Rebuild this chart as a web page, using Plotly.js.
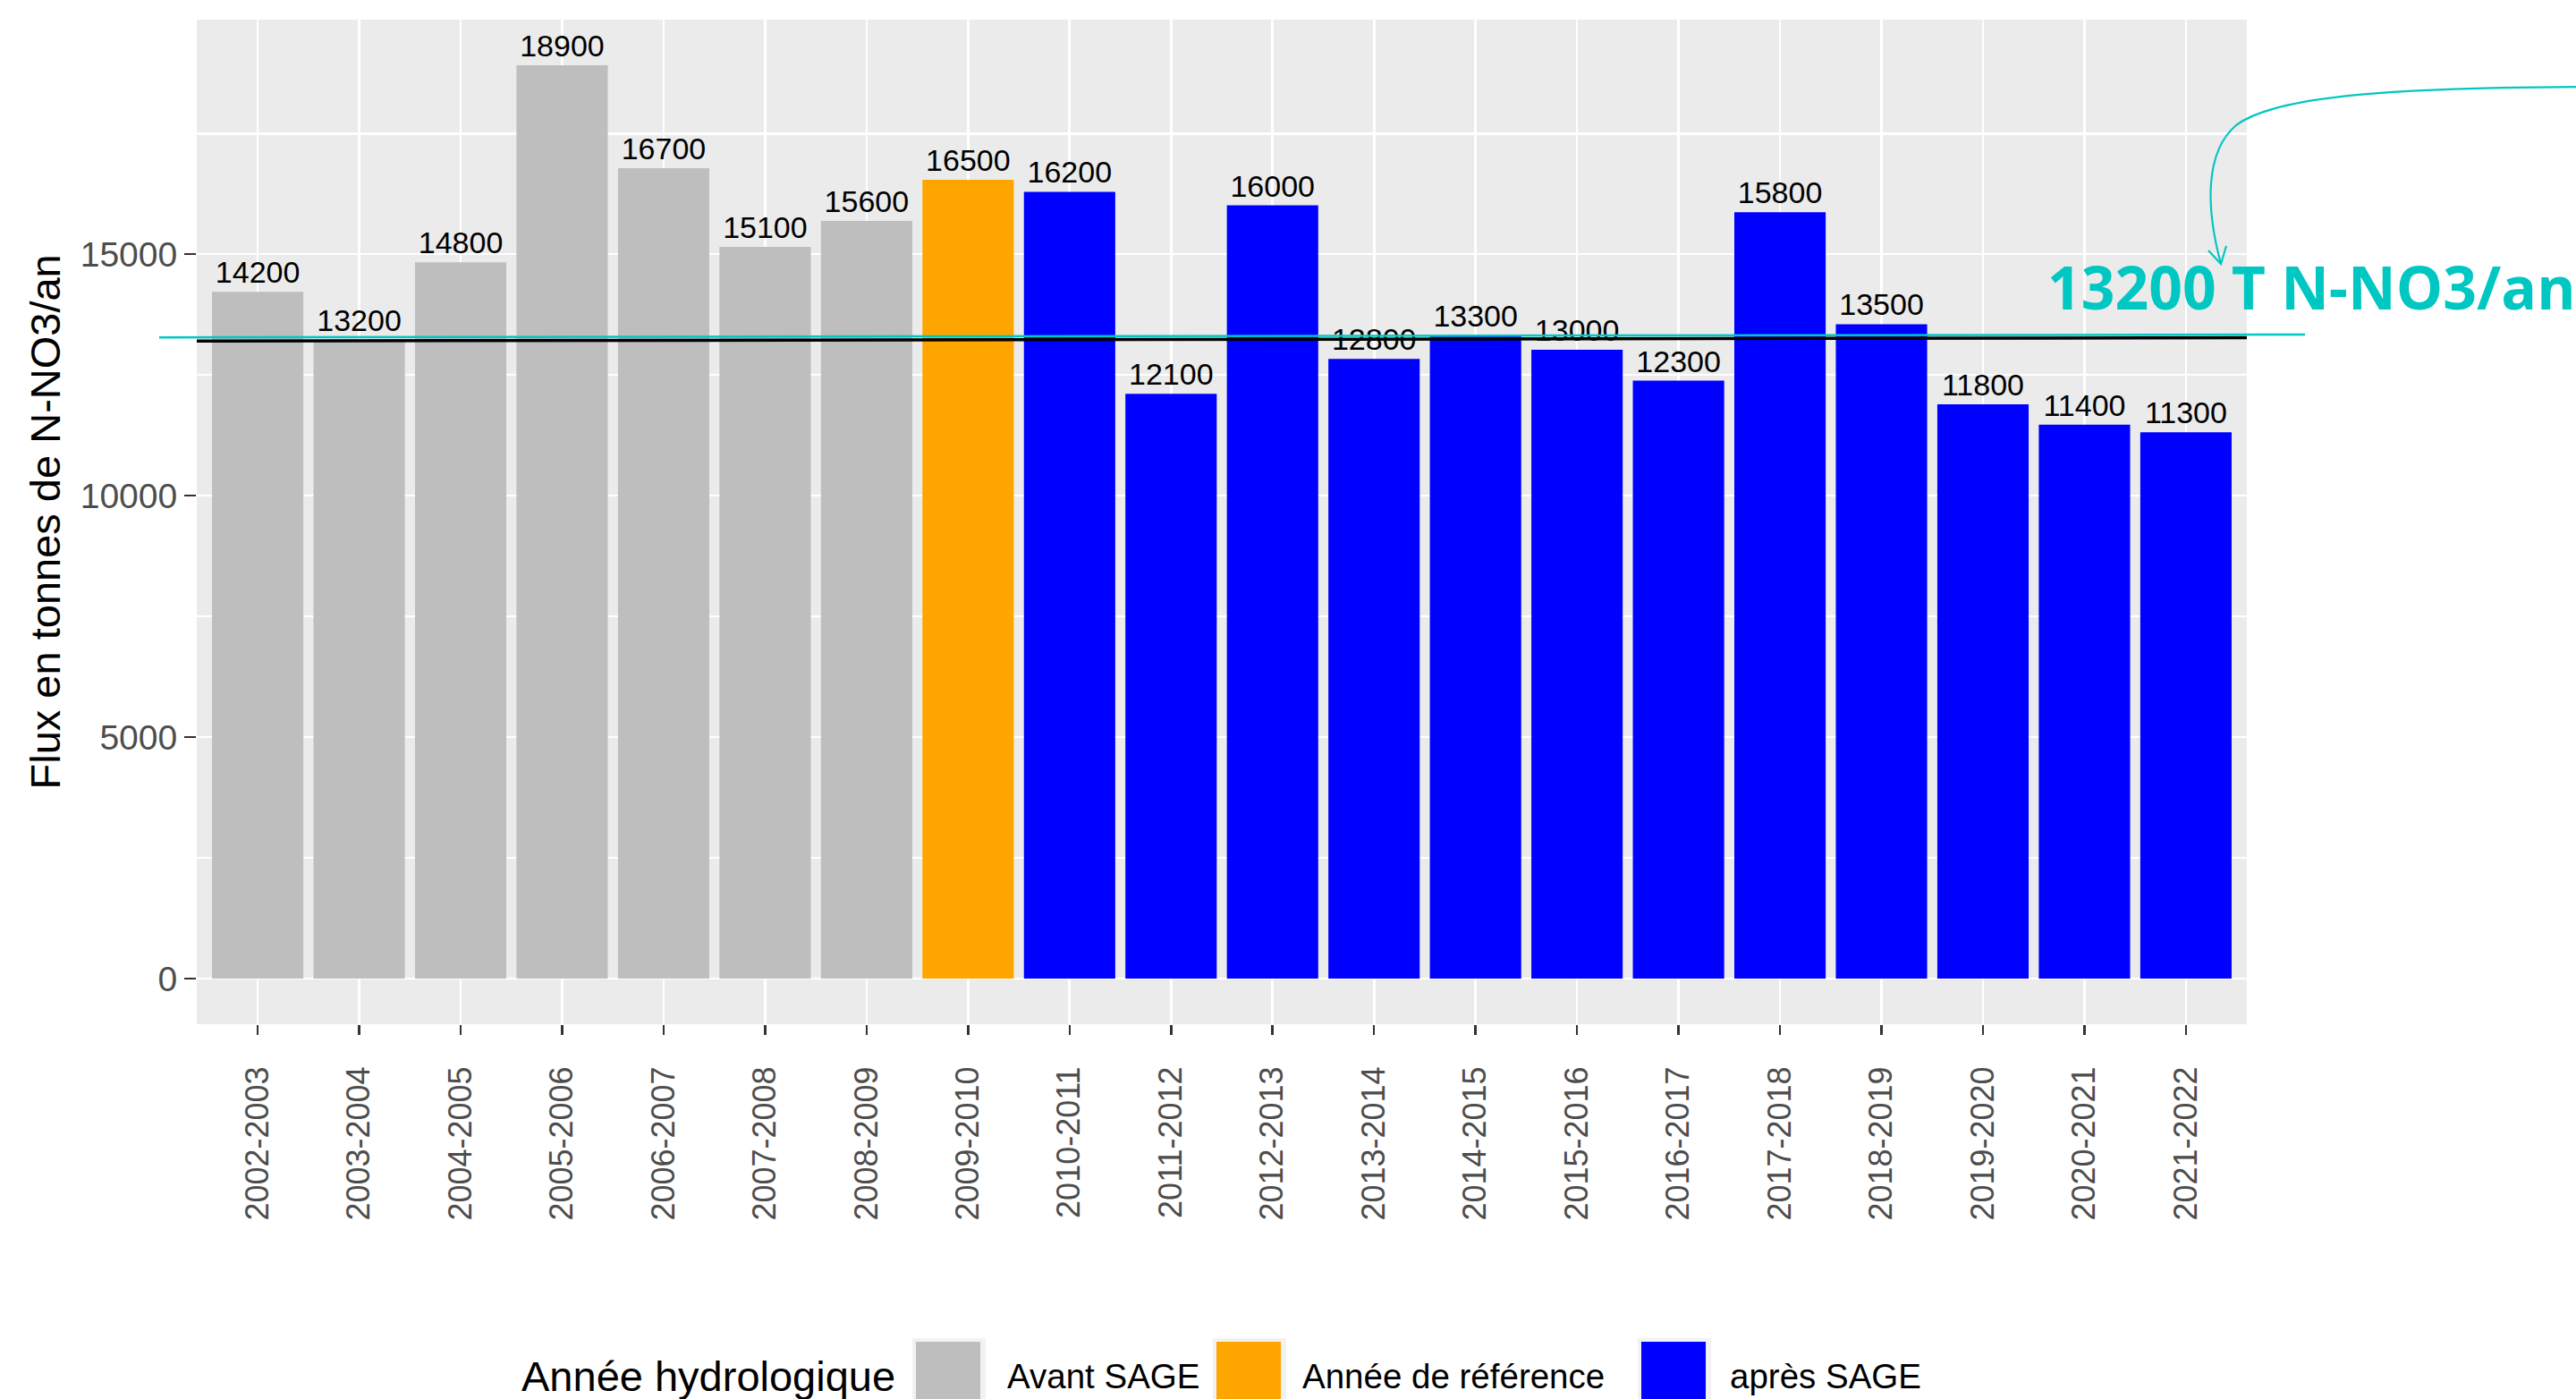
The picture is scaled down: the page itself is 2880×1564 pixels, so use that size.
<!DOCTYPE html>
<html>
<head>
<meta charset="utf-8">
<script src="https://cdn.plot.ly/plotly-3.0.1.min.js"></script>
<style>
  html, body { margin: 0; padding: 0; background: #ffffff; }
  #chart { width: 2880px; height: 1564px; }
</style>
</head>
<body>
<div id="chart"></div>
<script>
// ---- data ----
const categories = ["2002-2003","2003-2004","2004-2005","2005-2006","2006-2007","2007-2008","2008-2009",
  "2009-2010","2010-2011","2011-2012","2012-2013","2013-2014","2014-2015","2015-2016","2016-2017",
  "2017-2018","2018-2019","2019-2020","2020-2021","2021-2022"];
const fluxValues = [14220, 13220, 14830, 18910, 16780, 15150, 15690, 16540, 16290, 12110,
  16010, 12830, 13310, 13020, 12380, 15870, 13550, 11890, 11470, 11310];
const fluxLabels = ["14200","13200","14800","18900","16700","15100","15600","16500","16200","12100",
  "16000","12800","13300","13000","12300","15800","13500","11800","11400","11300"];
const periodGroup = ["Avant SAGE","Avant SAGE","Avant SAGE","Avant SAGE","Avant SAGE","Avant SAGE","Avant SAGE",
  "Année de référence","après SAGE","après SAGE","après SAGE","après SAGE","après SAGE","après SAGE",
  "après SAGE","après SAGE","après SAGE","après SAGE","après SAGE","après SAGE"];
const groupNames = ["Avant SAGE", "Année de référence", "après SAGE"];
const groupColors = ["#BEBEBE", "#FFA500", "#0000FF"];
const referenceLevel = 13200;          // black horizontal line
const referenceLevelEnd = 13270;
const targetLineStart = 13276;         // cyan drawn line
const targetLineEnd = 13335;
const targetText = "13200 T N-NO3/an";
const yTickVals = [0, 5000, 10000, 15000];
const legendTitle = "Année hydrologique";
const yTitle = "Flux en tonnes de N-NO3/an";

// ---- layout helpers (pixels -> paper) ----
const W = 2880, H = 1564;
const L = 220, R = 2512, T = 22, B = 1145;
const px = x => (x - L) / (R - L);
const py = y => (B - y) / (B - T);

const colorOf = g => groupColors[groupNames.indexOf(g)];
const maxV = Math.max(...fluxValues);
const yRange = [-0.05 * maxV, maxV * 1.05];

const FONT = "Liberation Sans, Arial, sans-serif";

const trace = {
  type: "bar",
  x: categories,
  y: fluxValues,
  text: fluxLabels,
  textposition: "outside",
  constraintext: "none",
  cliponaxis: false,
  textfont: { family: FONT, size: 34, color: "#000000" },
  marker: { color: periodGroup.map(colorOf), line: { width: 0 } },
  hoverinfo: "skip",
  showlegend: false
};

const shapes = [];
// black reference line over the panel
shapes.push({ type: "line", xref: "paper", yref: "y", x0: 0, x1: 1,
  y0: referenceLevel, y1: referenceLevelEnd, layer: "above",
  line: { color: "#000000", width: 3.5 } });
// cyan target line
shapes.push({ type: "line", xref: "paper", yref: "y", x0: px(178), x1: px(2577),
  y0: targetLineStart, y1: targetLineEnd, layer: "above",
  line: { color: "#00C7C2", width: 2.5 } });
// curved arrow
const P = (x, y) => px(x).toFixed(5) + "," + py(y).toFixed(5);
shapes.push({ type: "path", xref: "paper", yref: "paper", layer: "above",
  path: "M" + P(2890, 97) + " C" + P(2650, 98) + " " + P(2540, 110) + " " + P(2500, 140) +
        " C" + P(2465, 170) + " " + P(2466, 232) + " " + P(2483, 295),
  line: { color: "#00C7C2", width: 2.2 } });
shapes.push({ type: "path", xref: "paper", yref: "paper", layer: "above",
  path: "M" + P(2469, 280) + " L" + P(2483, 295) + " L" + P(2489, 275),
  line: { color: "#00C7C2", width: 2.2 } });

// manual legend keys
const keyX = [1024, 1360, 1835];
const labelX = [1126, 1456, 1934];
groupNames.forEach((g, i) => {
  shapes.push({ type: "rect", xref: "paper", yref: "paper", layer: "above",
    x0: px(keyX[i] - 4), x1: px(keyX[i] + 74 + 4), y0: py(1496), y1: py(1580),
    fillcolor: "#F2F2F2", line: { width: 0 } });
  shapes.push({ type: "rect", xref: "paper", yref: "paper", layer: "above",
    x0: px(keyX[i]), x1: px(keyX[i] + 72), y0: py(1500), y1: py(1576),
    fillcolor: colorOf(g), line: { width: 0 } });
});

const annotations = [];
annotations.push({ xref: "paper", yref: "paper", x: px(2287), y: py(320),
  xanchor: "left", yanchor: "middle", showarrow: false, text: "<b>" + targetText + "</b>",
  font: { family: "Open Sans, sans-serif", size: 66, color: "#00C7C2" } });
annotations.push({ xref: "paper", yref: "paper", x: px(50), y: 0.5,
  xanchor: "center", yanchor: "middle", showarrow: false, textangle: -90, text: yTitle,
  font: { family: FONT, size: 47, color: "#000000" } });
annotations.push({ xref: "paper", yref: "paper", x: px(581), y: py(1538),
  xanchor: "left", yanchor: "middle", showarrow: false, text: legendTitle,
  font: { family: FONT, size: 47, color: "#000000" } });
groupNames.forEach((g, i) => {
  annotations.push({ xref: "paper", yref: "paper", x: px(labelX[i] - 2), y: py(1538),
    xanchor: "left", yanchor: "middle", showarrow: false, text: g,
    font: { family: FONT, size: 38.5, color: "#000000" } });
});

const layout = {
  width: W, height: H,
  margin: { l: L, r: W - R, t: T, b: H - B, pad: 0 },
  paper_bgcolor: "#FFFFFF",
  plot_bgcolor: "#EBEBEB",
  bargap: 0.1,
  showlegend: false,
  font: { family: FONT },
  xaxis: {
    type: "category",
    range: [-0.6, categories.length - 0.4],
    showgrid: true, gridcolor: "#FFFFFF", gridwidth: 2.7,
    zeroline: false, showline: false,
    ticks: "outside", ticklen: 11, tickwidth: 2.5, tickcolor: "#333333",
    tickangle: -90,
    ticklabelstandoff: 21,
    tickfont: { family: FONT, size: 36, color: "#4D4D4D" },
    fixedrange: true
  },
  yaxis: {
    range: yRange,
    tickvals: yTickVals,
    ticktext: yTickVals.map(String),
    showgrid: true, gridcolor: "#FFFFFF", gridwidth: 2.7,
    minor: { dtick: 2500, tick0: 0, showgrid: true, gridcolor: "#FFFFFF", gridwidth: 2.7, ticks: "" },
    zeroline: false, showline: false,
    ticks: "outside", ticklen: 13, tickwidth: 2.5, tickcolor: "#333333",
    tickfont: { family: FONT, size: 39, color: "#4D4D4D" },
    fixedrange: true
  },
  shapes: shapes,
  annotations: annotations
};

Plotly.newPlot("chart", [trace], layout, { displayModeBar: false, staticPlot: true });
</script>
</body>
</html>
